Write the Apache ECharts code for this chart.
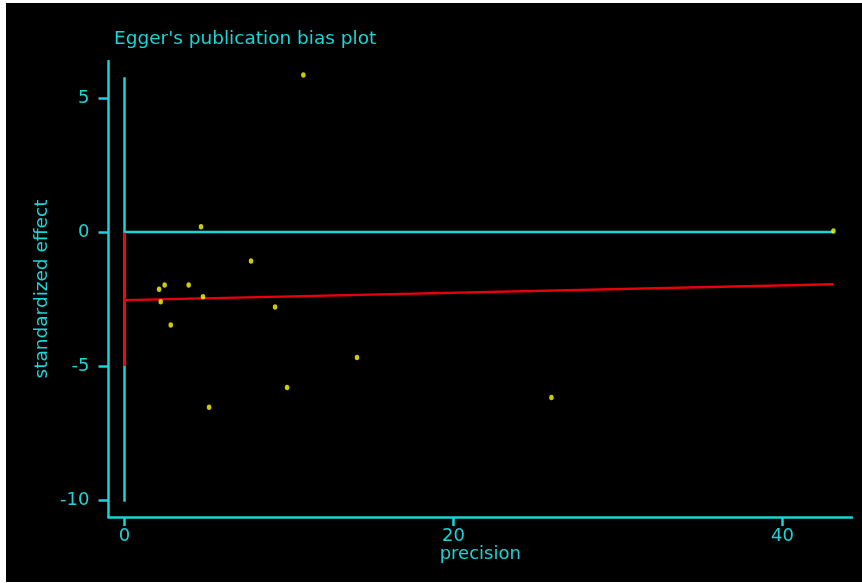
<!DOCTYPE html>
<html>
<head>
<meta charset="utf-8">
<script src="https://cdn.jsdelivr.net/npm/echarts@6/dist/echarts.min.js"></script>
<style>
  html, body { margin: 0; padding: 0; background: #ffffff; width: 862px; height: 583px; overflow: hidden; }
  #chart { position: absolute; left: 6px; top: 3px; width: 856px; height: 579px; background: #000000; }
</style>
</head>
<body>
<div id="chart"></div>
<script>
// Study-level points: precision (1/SE) and standardized effect (effect/SE)
const precision = [2.10, 2.20, 2.44, 2.81, 3.90, 4.65, 4.77, 5.14, 7.69, 9.15, 9.88, 10.87, 14.13, 25.95, 43.09];
const stdEffect = [-2.13, -2.60, -1.98, -3.47, -1.98, 0.20, -2.41, -6.54, -1.08, -2.80, -5.80, 5.86, -4.68, -6.17, 0.04];

// Egger regression line (start / end)
const fitX = [0, 43.09];
const fitY = [-2.54, -1.95];

// Confidence interval of the intercept, drawn on the y axis
const ciX = [0, 0];
const ciY = [-0.03, -5.0];

// Reference lines: zero-effect line and zero-precision line
const zeroLineX = [0, 43.09];
const zeroLineY = [0, 0];
const yRefX = [0, 0];
const yRefY = [5.77, -10.06];

// Tick values
const xTicks = [0, 20, 40];
const yTicks = [-10, -5, 0, 5];

const CYAN = '#1ad4d8';
const RED = '#e8000a';
const YELLOW = '#ffff00';
const FONT = 'DejaVu Sans';

const zip = (a, b) => a.map((v, i) => [v, b[i]]);

const chart = echarts.init(document.getElementById('chart'), null, { renderer: 'canvas' });

chart.setOption({
  backgroundColor: '#000000',
  animation: false,
  title: {
    text: "Egger's publication bias plot",
    left: 103,
    top: 22,
    textStyle: { color: CYAN, fontSize: 18.5, fontWeight: 'normal', fontFamily: FONT }
  },
  grid: { left: 102.5, right: 10, top: 58, bottom: 65, containLabel: false },
  xAxis: {
    type: 'value',
    min: -0.973,
    max: 44.22,
    name: 'precision',
    nameLocation: 'middle',
    nameGap: 28,
    nameMoveOverlap: false,
    nameTextStyle: { color: CYAN, fontSize: 18, fontFamily: FONT },
    axisLine: { show: true, onZero: false, lineStyle: { color: CYAN, width: 2.5 } },
    axisTick: { show: true, length: 9, customValues: xTicks, lineStyle: { color: CYAN, width: 2.5 } },
    axisLabel: { color: CYAN, fontSize: 18, fontFamily: FONT, margin: 10, customValues: xTicks },
    splitLine: { show: false }
  },
  yAxis: {
    type: 'value',
    min: -10.63,
    max: 6.38,
    name: 'standardized effect',
    nameLocation: 'middle',
    nameGap: 57,
    nameMoveOverlap: false,
    nameRotate: 90,
    nameTextStyle: { color: CYAN, fontSize: 18.5, fontFamily: FONT },
    axisLine: { show: true, onZero: false, lineStyle: { color: CYAN, width: 2.5 } },
    axisTick: { show: true, length: 10, customValues: yTicks, lineStyle: { color: CYAN, width: 2.5 } },
    axisLabel: { color: CYAN, fontSize: 18, fontFamily: FONT, margin: 19, customValues: yTicks },
    splitLine: { show: false }
  },
  series: [
    {
      name: 'zero effect',
      type: 'line',
      data: zip(zeroLineX, zeroLineY),
      symbol: 'none',
      lineStyle: { color: CYAN, width: 2.5 },
      z: 2
    },
    {
      name: 'zero precision',
      type: 'line',
      data: zip(yRefX, yRefY),
      symbol: 'none',
      lineStyle: { color: CYAN, width: 2.5 },
      z: 2
    },
    {
      name: 'intercept CI',
      type: 'line',
      data: zip(ciX, ciY),
      symbol: 'none',
      lineStyle: { color: RED, width: 2.5 },
      z: 3
    },
    {
      name: 'regression',
      type: 'line',
      data: zip(fitX, fitY),
      symbol: 'none',
      lineStyle: { color: RED, width: 2.5 },
      z: 3
    },
    {
      name: 'studies',
      type: 'scatter',
      data: zip(precision, stdEffect),
      symbol: 'circle',
      symbolSize: [4.5, 5.5],
      itemStyle: { color: YELLOW },
      z: 4
    }
  ]
});
</script>
</body>
</html>
